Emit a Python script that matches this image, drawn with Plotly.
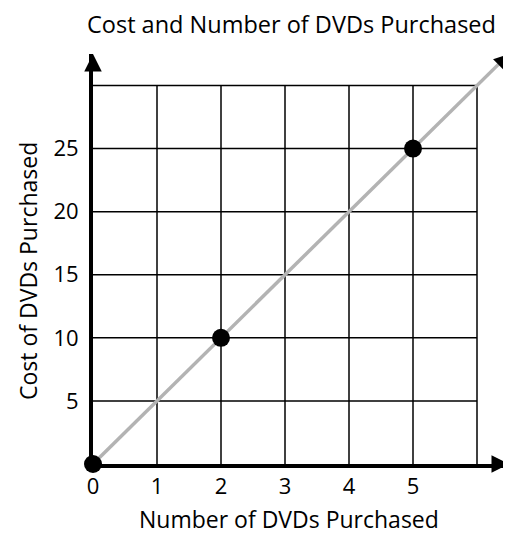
import plotly.graph_objects as go

# data
dvds = [0, 2, 5]
cost = [0, 10, 25]
line_dvds = [0, 6.5]
line_cost = [0, 32.5]
grid_x = [1, 2, 3, 4, 5, 6]
grid_y = [5, 10, 15, 20, 25, 30]
x_ticks = [0, 1, 2, 3, 4, 5]
y_ticks = [5, 10, 15, 20, 25]

FONT = "Open Sans"
x_max = line_dvds[-1]
y_max = line_cost[-1]

fig = go.Figure()

# grid lines stop at the last grid value, so draw them as shapes from the grid lists
for gx in grid_x:
    fig.add_shape(type="line", x0=gx, x1=gx, y0=0, y1=max(grid_y), xref="x", yref="y",
                  line=dict(color="black", width=1.5), layer="below")
for gy in grid_y:
    fig.add_shape(type="line", x0=0, x1=max(grid_x), y0=gy, y1=gy, xref="x", yref="y",
                  line=dict(color="black", width=1.5), layer="below")

fig.add_trace(go.Scatter(x=line_dvds, y=line_cost, mode="lines", cliponaxis=False,
                         line=dict(color="#b3b3b3", width=3.5), hoverinfo="skip"))
fig.add_trace(go.Scatter(x=dvds, y=cost, mode="markers", cliponaxis=False,
                         marker=dict(color="black", size=18)))

# arrow heads on the axes and the line
fig.add_annotation(x=0, y=y_max, ax=0, ay=12, xref="x", yref="y", showarrow=True,
                   arrowhead=2, arrowsize=1, arrowwidth=3.5, arrowcolor="black", text="")
fig.add_annotation(x=x_max, y=0, ax=-12, ay=0, xref="x", yref="y", showarrow=True,
                   arrowhead=2, arrowsize=1, arrowwidth=3.5, arrowcolor="black", text="")
fig.add_annotation(x=line_dvds[-1], y=line_cost[-1], ax=-7, ay=7, xref="x", yref="y", showarrow=True,
                   arrowhead=2, arrowsize=1, arrowwidth=3, arrowcolor="black", text="")

# titles
title_font = dict(family=FONT, size=23, color="black")
fig.add_annotation(text="Cost and Number of DVDs Purchased", x=0.478, y=1.073, xref="paper", yref="paper",
                   xanchor="center", yanchor="middle", showarrow=False,
                   font=dict(family=FONT, size=23.5, color="black"))
fig.add_annotation(text="Number of DVDs Purchased", x=0.471, y=-0.134, xref="paper", yref="paper",
                   xanchor="center", yanchor="middle", showarrow=False, font=title_font)
fig.add_annotation(text="Cost of DVDs Purchased", x=-0.156, y=0.471, xref="paper", yref="paper",
                   xanchor="center", yanchor="middle", showarrow=False, textangle=-90, font=title_font)

# the page body adds an 8px offset, so the figure is 8px smaller than the window
fig.update_layout(
    width=503, height=527,
    margin=dict(l=85, r=2, t=46, b=71, autoexpand=False),
    paper_bgcolor="white", plot_bgcolor="white",
    showlegend=False,
    font=dict(family=FONT, size=22, color="black"),
    xaxis=dict(range=[0, x_max], showgrid=False, zeroline=False, showline=True, automargin=False,
               linecolor="black", linewidth=4, tickvals=x_ticks, ticks="", layer="below traces"),
    yaxis=dict(range=[0, y_max], showgrid=False, zeroline=False, showline=True, automargin=False,
               linecolor="black", linewidth=4, tickvals=y_ticks, ticks="", layer="below traces",
               ticklabelstandoff=6),
)

fig.write_html("out.html")
